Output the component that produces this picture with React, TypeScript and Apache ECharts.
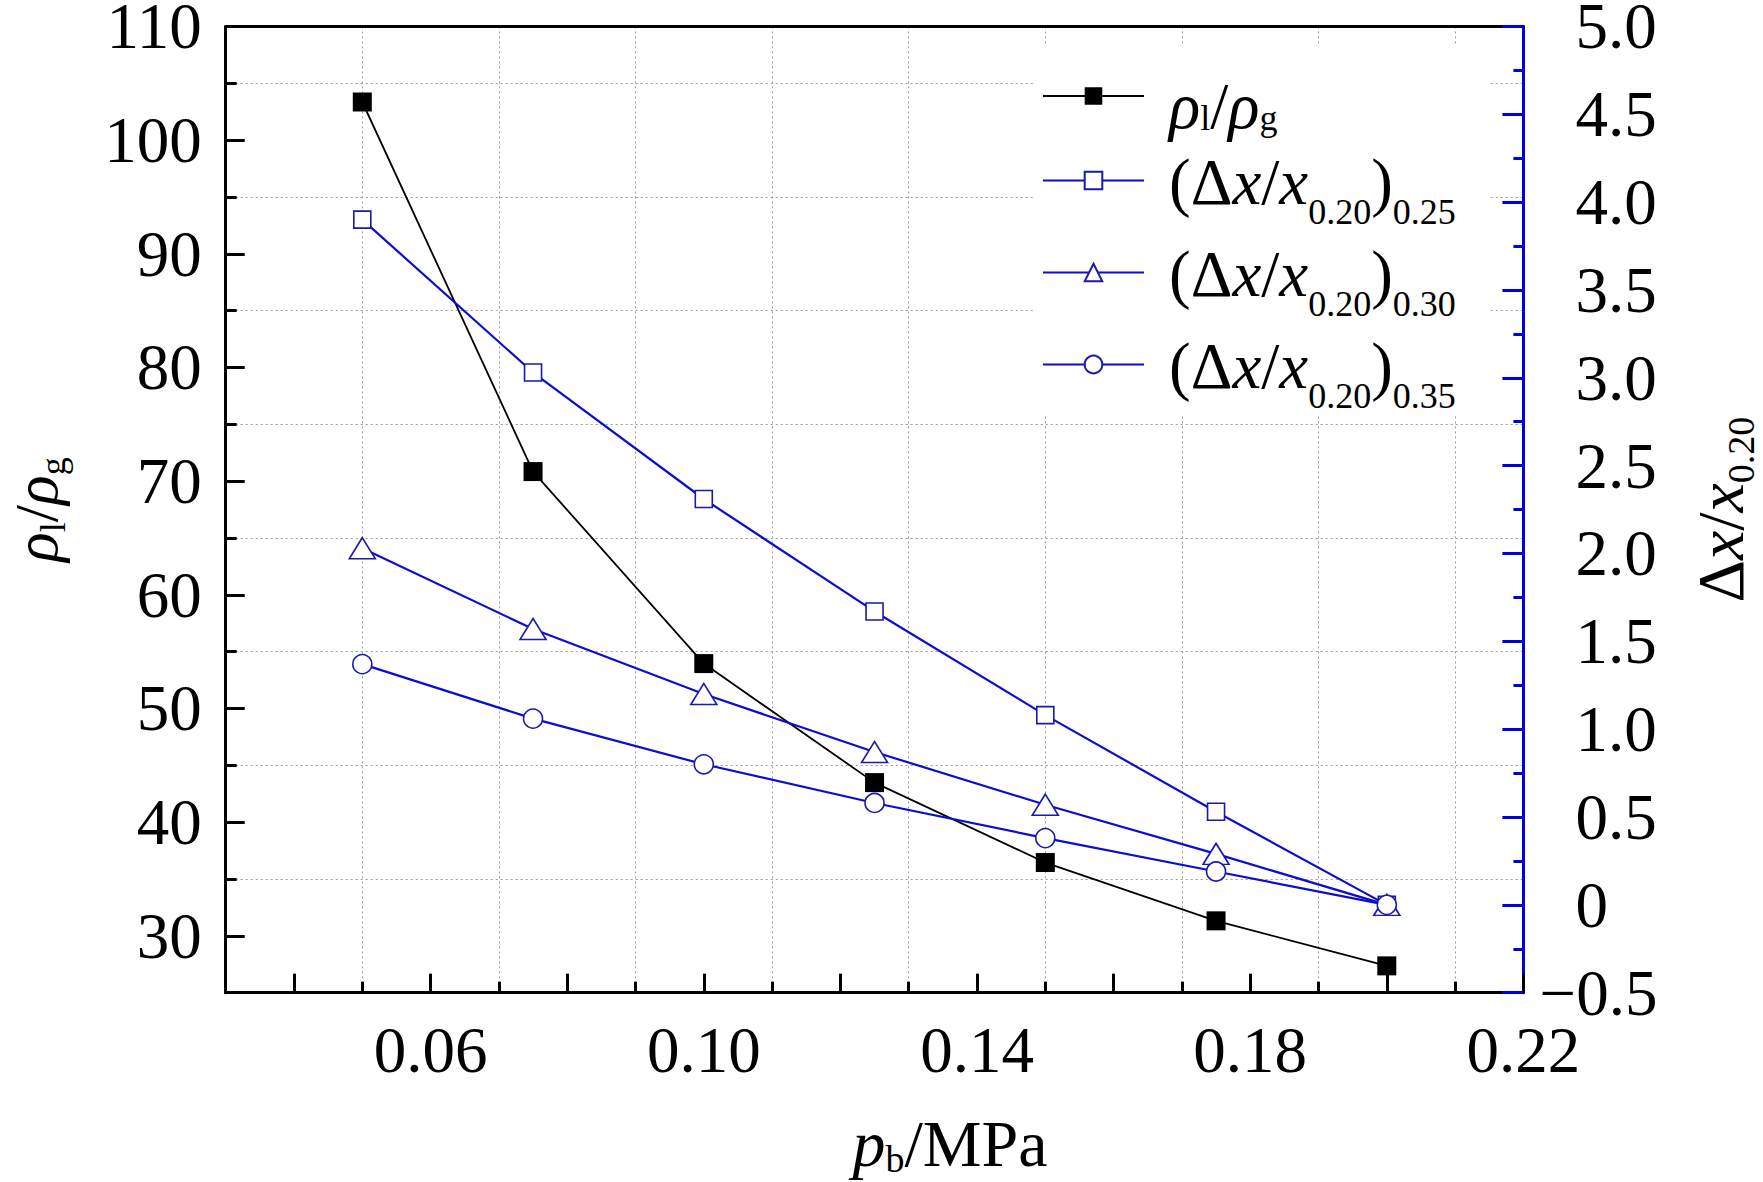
import React, { useEffect, useRef } from 'react';
import * as echarts from 'echarts';

// ---------------- data ----------------
const pressure = [0.05, 0.075, 0.1, 0.125, 0.15, 0.175, 0.2];
const densityRatio = [103.35, 70.84, 53.95, 43.48, 36.45, 31.32, 27.36];
const dx025 = [3.9, 3.03, 2.31, 1.67, 1.08, 0.53, 0.0];
const dx030 = [2.03, 1.57, 1.2, 0.87, 0.57, 0.29, 0.0];
const dx035 = [1.37, 1.06, 0.8, 0.58, 0.38, 0.19, 0.0];

const seriesNames = ['ρl/ρg', '(Δx/x0.20)0.25', '(Δx/x0.20)0.30', '(Δx/x0.20)0.35'];
const legendTexts = [
  '{r1a|ρ}{r1s|l}{r1m|/}{r1i|ρ}{r1s|g}',
  '{ra|(Δ}{ri|x}{rm|/}{ri|x}{rs|0.20}{rm|)}{rs|0.25}',
  '{ra|(Δ}{ri|x}{rm|/}{ri|x}{rs|0.20}{rm|)}{rs|0.30}',
  '{ra|(Δ}{ri|x}{rm|/}{ri|x}{rs|0.20}{rm|)}{rs|0.35}',
];

const xTickLabels = ['0.06', '0.10', '0.14', '0.18', '0.22'];
const leftTickLabels = ['30', '40', '50', '60', '70', '80', '90', '100', '110'];
const rightTickLabels = ['\u22120.5', '0', '0.5', '1.0', '1.5', '2.0', '2.5', '3.0', '3.5', '4.0', '4.5', '5.0'];

// ---------------- layout ----------------
const W = 1763;
const H = 1182;
const PLOT = { left: 225.7, top: 26.4, right: 1523.4, bottom: 992.7 };
const X_MIN = 0.03;
const X_MAX = 0.22;
const YL_MIN = 25;
const YL_MAX = 110;
const YR_MIN = -0.5;
const YR_MAX = 5;

const FONT = "'Liberation Serif', 'Times New Roman', Times, serif";
const BLUE_LINE = '#0c0cd4';
const BLUE_MARK = '#1a1aa8';
const BLUE_AXIS = '#0000e6';
const GRID_COLOR = '#9a9a9a';
const TICK_FS = 65;

function buildOption() {
  const plotH = PLOT.bottom - PLOT.top;
  const plotW = PLOT.right - PLOT.left;
  const yAt30 = PLOT.top + ((YL_MAX - 30) / (YL_MAX - YL_MIN)) * plotH;
  const xAt004 = PLOT.left + ((0.04 - X_MIN) / (X_MAX - X_MIN)) * plotW;
  const gridBase = { outerBoundsMode: 'none', containLabel: false } as any;

  const tickLabelStyle = { fontFamily: FONT, fontSize: TICK_FS, color: '#000' };
  const yTickLabelStyle = { ...tickLabelStyle, lineHeight: 50 };
  const main = (italic: boolean, lh: number, extra: any = {}) => ({
    fontFamily: FONT,
    fontSize: 65,
    fontStyle: italic ? 'italic' : 'normal',
    color: '#000',
    lineHeight: lh,
    ...extra,
  });
  const sub = (lh: number, extra: any = {}) => ({
    fontFamily: FONT,
    fontSize: 36,
    color: '#000',
    lineHeight: lh,
    ...extra,
  });

  const legendRich = {
    r1a: main(true, 46, { verticalAlign: 'top', padding: [0, 0, 0, 20] }),
    r1i: main(true, 46, { verticalAlign: 'top' }),
    r1m: main(false, 46, { verticalAlign: 'top' }),
    r1s: sub(36, { verticalAlign: 'top', padding: [27, 0, 0, 0] }),
    ra: main(false, 63, { verticalAlign: 'top', padding: [0, 0, 0, 20] }),
    ri: main(true, 63, { verticalAlign: 'top' }),
    rm: main(false, 63, { verticalAlign: 'top' }),
    rs: sub(36, { verticalAlign: 'top', padding: [45, 0, 0, 0] }),
  };

  const titleMain = (italic: boolean, fs: number, lh: number, extra: any = {}) => ({
    fontFamily: FONT,
    fontSize: fs,
    fontStyle: italic ? 'italic' : 'normal',
    color: '#000',
    lineHeight: lh,
    verticalAlign: 'middle',
    ...extra,
  });
  const titleSub = (fs: number, lh: number) => ({
    fontFamily: FONT,
    fontSize: fs,
    color: '#000',
    lineHeight: lh,
    verticalAlign: 'bottom',
  });

  const plotCenterX = (PLOT.left + PLOT.right) / 2;
  const bottomTitleCenterX = 950;

  const dotted = { show: true, lineStyle: { color: GRID_COLOR, width: 1, type: [2, 3] } };
  const noLine = { show: false };

  const line = (name: string, values: number[], yAxisIndex: number, symbol: string, symbolSize: any, color: string, filled: boolean, lw: number) => ({
    name,
    type: 'line',
    xAxisIndex: 0,
    yAxisIndex,
    data: pressure.map((x, i) => [x, values[i]]),
    symbol,
    symbolSize,
    showAllSymbol: true,
    clip: false,
    lineStyle: { color, width: lw },
    itemStyle: filled
      ? { color: '#000', borderWidth: 0 }
      : { color: '#ffffff', borderColor: BLUE_MARK, borderWidth: 1.6 },
    emphasis: { disabled: true },
    z: 3,
  });

  return {
    animation: false,
    backgroundColor: '#ffffff',
    textStyle: { fontFamily: FONT },
    grid: [
      { ...gridBase, left: PLOT.left, right: W - PLOT.right, top: PLOT.top, bottom: H - PLOT.bottom },
      { ...gridBase, left: PLOT.left, right: W - PLOT.right, top: PLOT.top, bottom: H - yAt30 },
      { ...gridBase, left: xAt004, right: W - PLOT.right, top: PLOT.top, bottom: H - PLOT.bottom },
    ],
    xAxis: [
      {
        gridIndex: 0,
        type: 'value',
        position: 'bottom',
        min: X_MIN,
        max: X_MAX,
        interval: 0.02,
        axisLine: { show: true, onZero: false, lineStyle: { color: '#000', width: 3 } },
        axisTick: { show: false },
        axisLabel: { show: false },
        splitLine: dotted,
        name: '{p|p}{b|b}{m|/MPa}',
        nameLocation: 'middle',
        nameGap: 115.3,
        nameMoveOverlap: false,
        nameTextStyle: {
          rich: {
            p: titleMain(true, 66, 70, { padding: [0, 0, 0, 2 * (bottomTitleCenterX - plotCenterX)] }),
            b: titleSub(38, 38),
            m: titleMain(false, 66, 70),
          },
        },
      },
      {
        gridIndex: 0,
        type: 'value',
        position: 'top',
        min: X_MIN,
        max: X_MAX,
        axisLine: { show: true, onZero: false, lineStyle: { color: '#000', width: 3 } },
        axisTick: { show: false },
        axisLabel: { show: false },
        splitLine: noLine,
      },
      { gridIndex: 1, type: 'value', show: false, min: 0, max: 1, axisLine: { onZero: false } },
      {
        gridIndex: 2,
        type: 'value',
        position: 'bottom',
        min: 0.04,
        max: X_MAX,
        interval: 0.02,
        axisLine: { show: false, onZero: false },
        axisTick: { show: true, inside: true, length: 19, lineStyle: { color: '#000', width: 3 } },
        minorTick: { show: true, splitNumber: 2, length: 11, lineStyle: { color: '#000', width: 3 } },
        splitLine: noLine,
        minorSplitLine: noLine,
        axisLabel: {
          ...tickLabelStyle,
          margin: 25,
          showMinLabel: true,
          showMaxLabel: true,
          formatter: (v: number) => {
            const s = v.toFixed(2);
            return xTickLabels.indexOf(s) >= 0 ? s : '';
          },
        },
      },
    ],
    yAxis: [
      {
        gridIndex: 0,
        type: 'value',
        position: 'left',
        min: YL_MIN,
        max: YL_MAX,
        interval: 10,
        axisLine: { show: true, onZero: false, lineStyle: { color: '#000', width: 3 } },
        axisTick: { show: false },
        axisLabel: { show: false },
        splitLine: dotted,
        name: '{i|ρ}{s|l}{m|/}{i|ρ}{s|g}',
        nameLocation: 'middle',
        nameRotate: 90,
        nameGap: 154.7,
        nameMoveOverlap: false,
        nameTextStyle: {
          rich: { i: titleMain(true, 62, 70), m: titleMain(false, 62, 70), s: titleSub(36, 8) },
        },
      },
      {
        gridIndex: 0,
        type: 'value',
        position: 'right',
        min: YR_MIN,
        max: YR_MAX,
        interval: 0.5,
        axisLine: { show: true, onZero: false, lineStyle: { color: BLUE_AXIS, width: 3 } },
        axisTick: { show: true, inside: true, length: 21, lineStyle: { color: BLUE_AXIS, width: 3 } },
        minorTick: { show: true, splitNumber: 2, length: 10, lineStyle: { color: BLUE_AXIS, width: 3 } },
        splitLine: noLine,
        minorSplitLine: noLine,
        axisLabel: {
          ...yTickLabelStyle,
          align: 'left',
          margin: 52,
          showMinLabel: true,
          showMaxLabel: true,
          formatter: (v: number) => {
            const i = Math.round((v - YR_MIN) / 0.5);
            return i === 0 ? '' : rightTickLabels[i] ?? '';
          },
        },
        name: '{u|Δ}{i|x}{m|/}{i|x}{s|0.20}',
        nameLocation: 'middle',
        nameRotate: 90,
        nameGap: 156.6,
        nameMoveOverlap: false,
        nameTextStyle: {
          rich: {
            u: titleMain(false, 66, 80),
            i: titleMain(true, 66, 80),
            m: titleMain(false, 66, 80),
            s: titleSub(38, 14),
          },
        },
      },
      {
        gridIndex: 0,
        type: 'value',
        position: 'right',
        min: YR_MIN,
        max: YR_MAX,
        interval: 0.5,
        axisLine: { show: false, onZero: false },
        axisTick: { show: false },
        splitLine: noLine,
        axisLabel: {
          ...yTickLabelStyle,
          align: 'right',
          margin: 134,
          showMinLabel: true,
          showMaxLabel: true,
          formatter: (v: number) => {
            const i = Math.round((v - YR_MIN) / 0.5);
            return i === 0 ? rightTickLabels[0] : '';
          },
        },
      },
      {
        gridIndex: 1,
        type: 'value',
        position: 'left',
        min: 30,
        max: YL_MAX,
        interval: 10,
        axisLine: { show: false, onZero: false },
        axisTick: { show: true, inside: true, length: 19, lineStyle: { color: '#000', width: 3 } },
        minorTick: { show: true, splitNumber: 2, length: 11, lineStyle: { color: '#000', width: 3 } },
        splitLine: noLine,
        minorSplitLine: noLine,
        axisLabel: {
          ...yTickLabelStyle,
          margin: 24,
          showMinLabel: true,
          showMaxLabel: true,
          formatter: (v: number) => {
            const s = String(Math.round(v));
            return leftTickLabels.indexOf(s) >= 0 ? s : '';
          },
        },
      },
      { gridIndex: 2, type: 'value', show: false, min: 0, max: 1, axisLine: { onZero: false } },
    ],
    legend: {
      show: true,
      orient: 'vertical',
      left: 1035,
      top: 45,
      padding: [28, 33, 0, 7],
      itemGap: 11,
      itemWidth: 101,
      itemHeight: 22,
      align: 'left',
      backgroundColor: '#ffffff',
      borderWidth: 0,
      selectedMode: false,
      data: seriesNames,
      formatter: (name: string) => legendTexts[seriesNames.indexOf(name)],
      textStyle: { fontFamily: FONT, color: '#000', rich: legendRich },
    },
    series: [
      line(seriesNames[0], densityRatio, 0, 'rect', 19, '#000', true, 1.8),
      line(seriesNames[1], dx025, 1, 'rect', 17, BLUE_LINE, false, 2.2),
      line(seriesNames[2], dx030, 1, 'triangle', [26, 21], BLUE_LINE, false, 2.2),
      line(seriesNames[3], dx035, 1, 'circle', 19, BLUE_LINE, false, 2.2),
    ],
  };
}

export default function App() {
  const ref = useRef<HTMLDivElement>(null);
  useEffect(() => {
    if (!ref.current) return;
    const chart = echarts.init(ref.current, null, { renderer: 'svg', width: W, height: H });
    chart.setOption(buildOption() as any);
    return () => chart.dispose();
  }, []);
  return (
    <div
      ref={ref}
      style={{ position: 'absolute', left: 0, top: 0, width: W, height: H, background: '#ffffff' }}
    />
  );
}
